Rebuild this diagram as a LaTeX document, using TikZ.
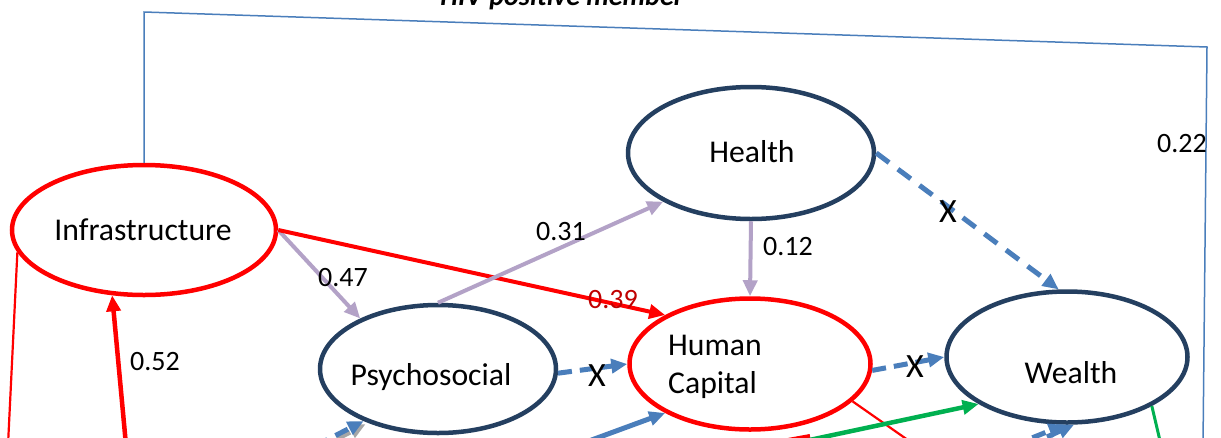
\documentclass[tikz,border=0pt]{standalone}
\usepackage{fontspec}
\setmainfont{Carlito}
\usetikzlibrary{arrows.meta,shapes.geometric}
\definecolor{navy}{HTML}{243F60}
\definecolor{lav}{HTML}{B3A2C7}
\definecolor{obl}{HTML}{4A7EBB}
\definecolor{ogreen}{HTML}{00B050}
\definecolor{dred}{HTML}{C00000}
\begin{document}
\begin{tikzpicture}[x=1pt,y=-1pt,
  ell/.style={ellipse, draw, line width=4.5pt, inner sep=0pt},
  ntxt/.style={font=\fontsize{31.7}{36}\selectfont, inner sep=0pt, anchor=base},
  lbl/.style={font=\fontsize{28}{32}\selectfont, inner sep=0pt, anchor=base},
  xlbl/.style={font=\fontsize{34}{38}\selectfont, inner sep=0pt, anchor=base},
  tip/.style={-{Triangle[length=16pt,width=14pt]}},
  lavarrow/.style={tip, draw=lav, line width=4pt},
  redarrow/.style={tip, draw=red, line width=4pt},
  bluedash/.style={tip, draw=obl, line width=5pt, dash pattern=on 16pt off 11pt},
  blueline/.style={tip, draw=obl, line width=5pt},
  greenarrow/.style={tip, draw=ogreen, line width=4.5pt},
  thinred/.style={draw=red, line width=2.2pt},
  frameline/.style={draw=obl, line width=1.5pt}]
\useasboundingbox (0,0) rectangle (1221,437);
\clip (0,0) rectangle (1221,437);
\fill[white] (0,0) rectangle (1221,437);

% title (cut off at top)
\node[font=\fontsize{28}{32}\selectfont\bfseries\itshape, inner sep=0pt, anchor=base] (title) at (562,5) {HIV-positive member};

% ellipses
\node[ell, draw=red, minimum width=264pt, minimum height=130pt] (infra) at (144,230) {};
\node[ell, draw=navy, minimum width=246pt, minimum height=132pt] (health) at (751,153) {};
\node[ell, draw=navy, minimum width=236pt, minimum height=128pt] (psy) at (438,369) {};
\node[ell, draw=red, minimum width=241pt, minimum height=131pt] (hc) at (750,364) {};
\node[ell, draw=navy, minimum width=241pt, minimum height=131pt] (wealth) at (1067,357) {};

% node texts
\node[ntxt] (tinfra) at (143,240) {Infrastructure};
\node[ntxt] (thealth) at (752,162) {Health};
\node[ntxt] (tpsy) at (431,385) {Psychosocial};
\node[ntxt, anchor=base west] (thc1) at (668,355) {Human};
\node[ntxt, anchor=base west] (thc2) at (668,393) {Capital};
\node[ntxt] (twealth) at (1071,383) {Wealth};

% frame line
\coordinate (f1) at (144,12);
\coordinate (f2) at (1207,47);
\coordinate (f3) at (1203,445);
\draw[frameline] (infra.north) -- (f1) -- (f2) -- (f3);

% free ends at the bottom edge
\coordinate (r1) at (8,445);
\coordinate (r2) at (126,445);
\coordinate (b1) at (315,446);
\coordinate (b2) at (578,445);
\coordinate (r3) at (915,445);
\coordinate (g1) at (800,442);
\coordinate (b3) at (1012,446);
\coordinate (b4) at (1027,446);
\coordinate (g2) at (1161,445);
\coordinate (rs1) at (788,440);
\coordinate (rs2) at (810,436);

% connectors
\draw[lavarrow] (infra.east) -- (psy.147);
\draw[redarrow] (infra.east) -- (hc.150);
\draw[lavarrow] (psy.north) -- (health.209);
\draw[lavarrow] (health.south) -- (hc.north);
\draw[bluedash] (health.east) -- (wealth.97);
\draw[bluedash, dash pattern=on 14pt off 8pt] (psy.-2) -- (hc.west);
\draw[bluedash, dash pattern=on 14pt off 8pt] (hc.-3) -- (wealth.west);

\draw[thinred] (infra.190) -- (r1);
\draw[redarrow, line width=4.5pt] (r2) -- (infra.244);
\draw[tip, draw=gray!70, line width=5pt, dash pattern=on 14pt off 9pt, transform canvas={shift={(2pt,-3pt)}}] (b1) -- (psy.215);
\draw[bluedash, dash pattern=on 14pt off 9pt] (b1) -- (psy.215);
\draw[blueline] (b2) -- (hc.210);
\draw[thinred] (hc.-20) -- (r3);
\draw[red, line width=4pt] (rs1) -- (rs2);
\draw[greenarrow] (g1) -- (wealth.208);
\draw[bluedash, dash pattern=on 14pt off 8pt] (b3) -- (wealth.-92);
\draw[bluedash, dash pattern=on 14pt off 8pt] (b4) -- (wealth.-84);
\draw[ogreen, line width=3pt] (wealth.-30) -- (g2);

% labels
\node[lbl] (l047) at (343,286) {0.47};
\node[lbl] (l031) at (561,240) {0.31};
\node[lbl, text=dred] (l039) at (613,308) {0.39};
\node[lbl] (l012) at (788,255) {0.12};
\node[lbl] (l052) at (155,370) {0.52};
\node[lbl] (l022) at (1182,152) {0.22};
\node[xlbl] (x1) at (948,222) {X};
\node[xlbl] (x2) at (597,386) {X};
\node[xlbl] (x3) at (915,377) {X};
\end{tikzpicture}
\end{document}
